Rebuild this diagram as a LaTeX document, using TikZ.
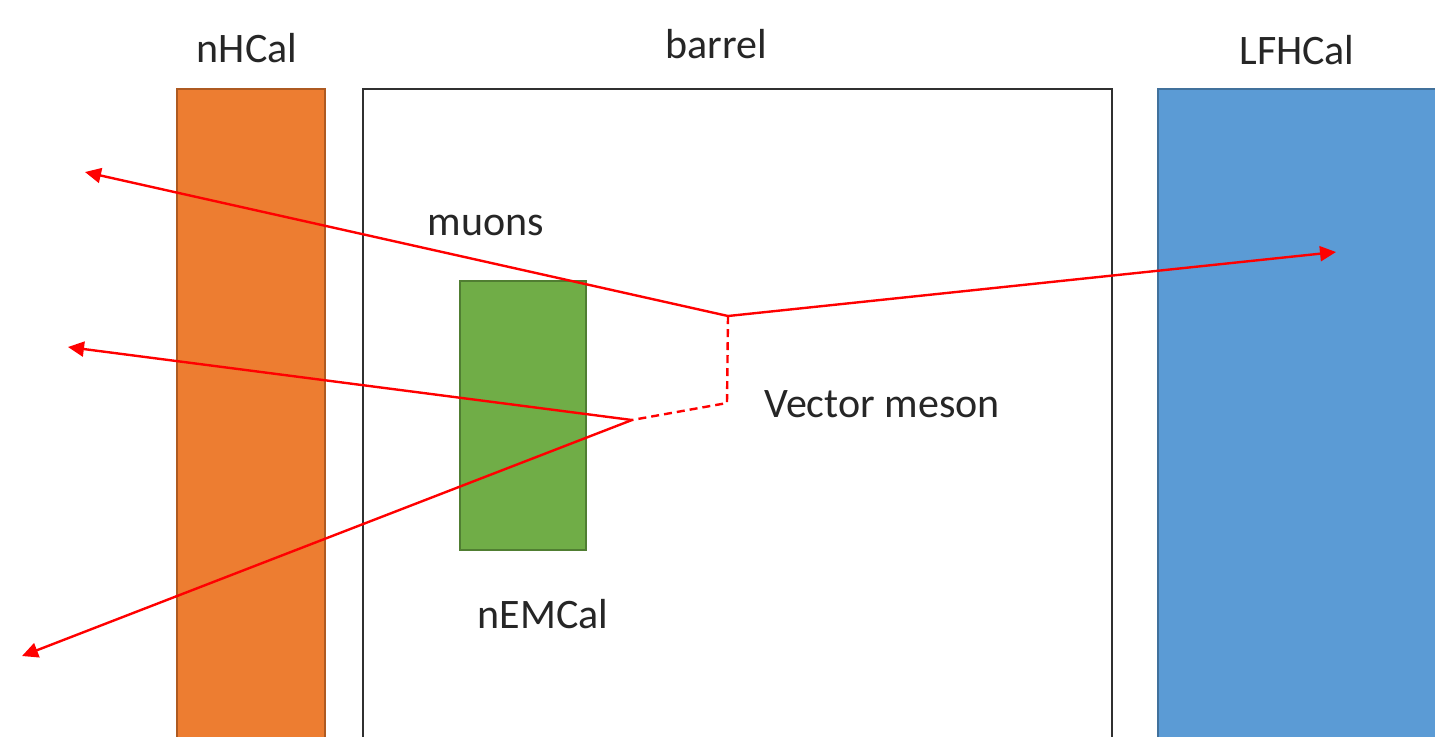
\documentclass[tikz,border=0pt]{standalone}
\usepackage{fontspec}
\setmainfont{Carlito}
\usetikzlibrary{arrows.meta}
\definecolor{hcalorange}{HTML}{ED7D31}
\definecolor{hcalorangeedge}{HTML}{AE5A21}
\definecolor{lfblue}{HTML}{5B9BD5}
\definecolor{lfblueedge}{HTML}{41719C}
\definecolor{emgreen}{HTML}{70AD47}
\definecolor{emgreenedge}{HTML}{507E32}
\definecolor{barreledge}{HTML}{303030}
\definecolor{trackred}{HTML}{FF0000}
\tikzset{
  detector/.style={line width=1pt},
  label/.style={font=\fontsize{21}{25}\selectfont, anchor=base, inner sep=0pt, text=black!85},
  track/.style={draw=trackred, line width=1.2pt, -{Triangle[length=8pt,width=7.5pt]}},
  decay/.style={draw=trackred, line width=1.2pt, dash pattern=on 4pt off 2.5pt}
}
\begin{document}
\begin{tikzpicture}[x=0.5pt, y=-0.5pt]
\useasboundingbox (0,0) rectangle (1435,736);
\clip (0,0) rectangle (1435,736);
\fill[white] (0,0) rectangle (1435,736);

% detector volumes
\draw[detector, fill=hcalorange, draw=hcalorangeedge] (177,89) rectangle (325,760);
\draw[detector, fill=white, draw=barreledge] (363,89) rectangle (1112,760);
\draw[detector, fill=lfblue, draw=lfblueedge] (1158,89) rectangle (1460,760);
\draw[detector, fill=emgreen, draw=emgreenedge] (460,281) rectangle (586,550);

% labels
\node[label] (nhcal) at (247,62) {nHCal};
\node[label] (barrel) at (716,58) {barrel};
\node[label] (lfhcal) at (1297,64) {LFHCal};
\node[label] (muons) at (486,235) {muons};
\node[label] (vmeson) at (882,417) {Vector meson};
\node[label] (nemcal) at (543,628) {nEMCal};

% vertices and track ends
\coordinate (vtx) at (728,316);
\coordinate (kink) at (727,403);
\coordinate (split) at (632,420);
\coordinate (endA) at (85,172);
\coordinate (endB) at (1336,252);
\coordinate (endC) at (68,347);
\coordinate (endD) at (22,656);

% tracks
\draw[decay] (vtx) -- (kink) -- (split);
\draw[track] (vtx) -- (endA);
\draw[track] (vtx) -- (endB);
\draw[track] (split) -- (endC);
\draw[track] (split) -- (endD);
\end{tikzpicture}
\end{document}
